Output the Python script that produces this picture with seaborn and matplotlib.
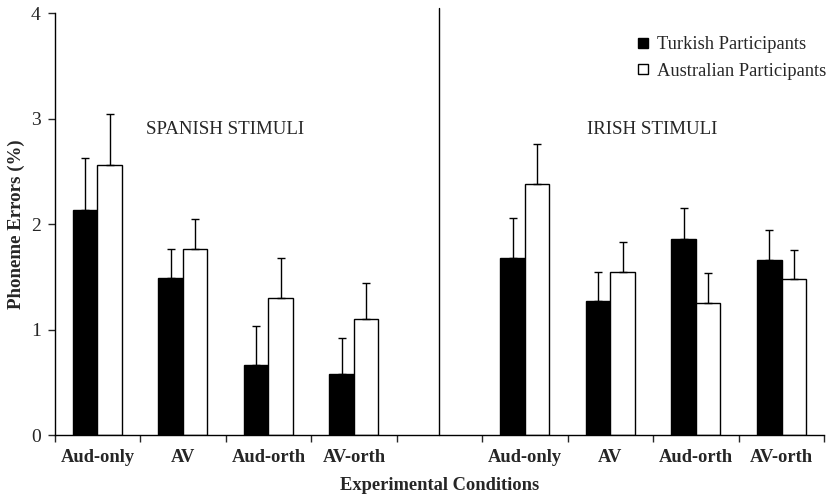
import matplotlib
matplotlib.use("Agg")
import matplotlib.pyplot as plt
from matplotlib.lines import Line2D
import seaborn as sns
import pandas as pd
import numpy as np

# ---- data ----
conditions = ["Aud-only", "AV", "Aud-orth", "AV-orth"]
slot_keys = ["S Aud-only", "S AV", "S Aud-orth", "S AV-orth", "gap",
             "I Aud-only", "I AV", "I Aud-orth", "I AV-orth"]
slot_labels = ["Aud-only", "AV", "Aud-orth", "AV-orth", "",
               "Aud-only", "AV", "Aud-orth", "AV-orth"]
groups = ["Turkish Participants", "Australian Participants"]

spanish_turkish = [2.14, 1.49, 0.67, 0.58]
spanish_turkish_err = [0.49, 0.28, 0.37, 0.34]
spanish_australian = [2.56, 1.77, 1.30, 1.10]
spanish_australian_err = [0.49, 0.28, 0.38, 0.34]
irish_turkish = [1.68, 1.27, 1.86, 1.66]
irish_turkish_err = [0.38, 0.28, 0.29, 0.29]
irish_australian = [2.38, 1.55, 1.25, 1.48]
irish_australian_err = [0.38, 0.28, 0.29, 0.28]

rows = []
for i, c in enumerate(conditions):
    rows.append(("S " + c, groups[0], spanish_turkish[i], spanish_turkish_err[i]))
    rows.append(("S " + c, groups[1], spanish_australian[i], spanish_australian_err[i]))
    rows.append(("I " + c, groups[0], irish_turkish[i], irish_turkish_err[i]))
    rows.append(("I " + c, groups[1], irish_australian[i], irish_australian_err[i]))
df = pd.DataFrame(rows, columns=["slot", "group", "value", "err"])

# ---- style ----
sns.set_style("ticks")
plt.rcParams["font.family"] = ["Liberation Serif", "DejaVu Serif"]

fig = plt.figure(figsize=(8.32, 4.97), dpi=100)
ax = fig.add_axes([0.0657, 0.1241, 0.925, 0.8491])

width = 0.573
sns.barplot(data=df, x="slot", y="value", hue="group", order=slot_keys,
            hue_order=groups, palette={groups[0]: "black", groups[1]: "white"},
            edgecolor="black", linewidth=1.0, width=width, errorbar=None,
            legend=False, ax=ax)

# error bars (upward only)
for _, r in df.iterrows():
    idx = slot_keys.index(r["slot"])
    off = -width / 4 if r["group"] == groups[0] else width / 4
    ax.errorbar(idx + off, r["value"], yerr=[[0], [r["err"]]], fmt="none",
                ecolor="black", elinewidth=1.0, capsize=3.2, capthick=1.0,
                zorder=1)

ax.set_xlim(-0.5, len(slot_keys) - 0.5)
ax.set_ylim(0, 4)
ax.set_yticks([0, 1, 2, 3, 4])
ax.set_yticklabels(["0", "1", "2", "3", "4"], fontsize=14)

# major ticks at boundaries, labels on minor ticks at centres
ax.set_xticks(np.arange(-0.5, len(slot_keys), 1.0))
ax.set_xticklabels([])
ax.set_xticks(np.arange(len(slot_keys)), minor=True)
ax.set_xticklabels(slot_labels, minor=True, fontsize=13.3, fontweight="bold")
ax.tick_params(axis="x", which="minor", length=0, pad=10)
ax.tick_params(axis="x", which="major", length=5, width=1, direction="out")
ax.tick_params(axis="y", length=5, width=1, direction="out", pad=5)

for s in ["top", "right"]:
    ax.spines[s].set_visible(False)
for s in ["left", "bottom"]:
    ax.spines[s].set_linewidth(1.0)
    ax.spines[s].set_color("black")

# divider line
ax.plot([4, 4], [0, 4.05], color="black", lw=1.0, clip_on=False)

ax.set_ylabel("Phoneme Errors (%)", fontsize=13.6, fontweight="bold", labelpad=4)
ax.set_xlabel("Experimental Conditions", fontsize=13.3, fontweight="bold", labelpad=8)

ax.text(1.49, 2.9, "SPANISH STIMULI", fontsize=13.6, ha="center", va="center")
ax.text(6.49, 2.9, "IRISH STIMULI", fontsize=13.6, ha="center", va="center")

handles = [Line2D([], [], marker="s", linestyle="none", markerfacecolor="black",
                  markeredgecolor="black", markersize=7.5),
           Line2D([], [], marker="s", linestyle="none", markerfacecolor="white",
                  markeredgecolor="black", markersize=7.5)]
ax.legend(handles, groups, loc="upper right", bbox_to_anchor=(1.024, 0.985),
          frameon=False, fontsize=13.3, handlelength=0.6, handletextpad=0.45,
          labelspacing=0.5)

fig.savefig("out.png", dpi=100)
